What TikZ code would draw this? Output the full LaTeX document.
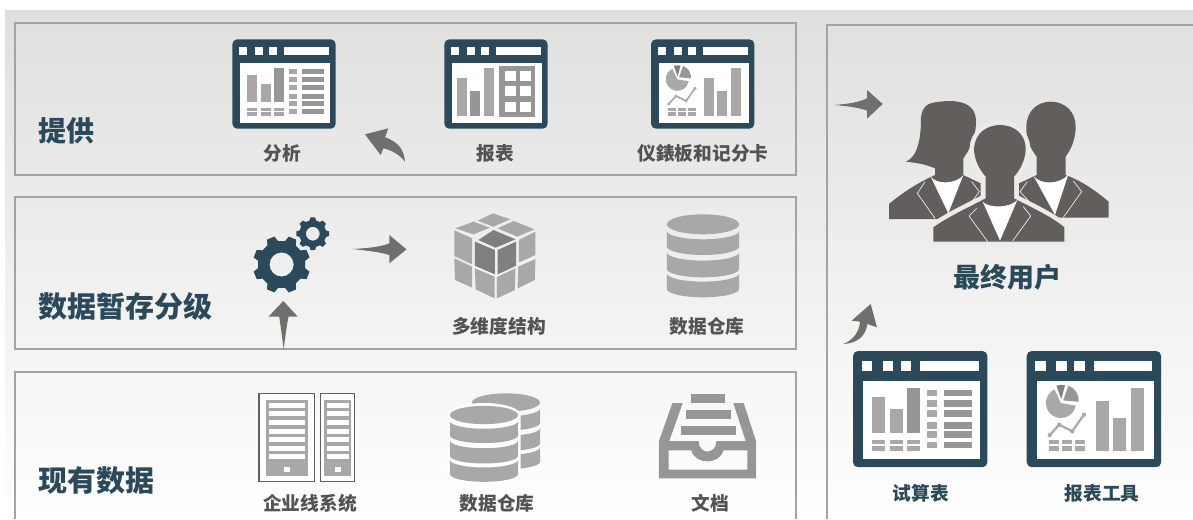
\documentclass[tikz,border=0pt]{standalone}
\usepackage{fontspec}
\setmainfont{Noto Sans CJK SC}
\usetikzlibrary{positioning}

\definecolor{framecol}{HTML}{2A4A5B}
\definecolor{barcol}{HTML}{A9A8A6}
\definecolor{darkbar}{HTML}{979695}
\definecolor{cubedark}{HTML}{7F7F7E}
\definecolor{arrowcol}{HTML}{716F6C}
\definecolor{usercol}{HTML}{625E5C}
\definecolor{panelline}{HTML}{A3A3A1}
\definecolor{labelcol}{HTML}{555351}
\definecolor{bgtop}{HTML}{DFDFDD}

\newcommand{\winframe}{
    \fill[framecol,rounded corners=5pt] (0,0) rectangle (103.4,89.4);
    \fill[white] (7.7,23.4) rectangle (97.7,83.4);
    \foreach \x in {6.7,22.7,36.7} \fill[white] (\x,7.7) rectangle ++(8,8);
    \fill[white] (51.7,7.7) rectangle (96.7,15.7);
}

\tikzset{
  panel/.style={draw=panelline,line width=1.3pt},
  bighead/.style={font=\bfseries\fontsize{29}{29}\selectfont,text=framecol,inner sep=0pt},
  itemlabel/.style={font=\bfseries\fontsize{18.7}{19}\selectfont,text=labelcol,inner sep=0pt},
  bluelabel/.style={itemlabel,text=framecol},
  swoosh/.style={fill=arrowcol},
  zoomthree/.style={xscale=.344,yscale=1/3},
  pics/analysisicon/.style={code={
    \winframe
    \fill[barcol] (14.7,35.7) rectangle (24.7,62.7);
    \fill[barcol] (28.7,44.7) rectangle (38.7,62.7);
    \fill[darkbar] (41.7,28.7) rectangle (51.7,62.7);
    \foreach \x in {14.7,28.7,41.7} {
      \fill[barcol] (\x,68.7) rectangle ++(10,3);
      \fill[barcol] (\x,73) rectangle ++(10,3.7);
    }
    \foreach \y in {29.7,37.7,45.7,54.7,61.7,69.7} {
      \fill[barcol] (56.7,\y) rectangle ++(8,5);
      \fill[darkbar] (69.7,\y) rectangle ++(22,5);
    }
  }},
  pics/reporticon/.style={code={
    \winframe
    \fill[barcol] (12.7,38.7) rectangle (22.7,76.7);
    \fill[darkbar] (25.7,51.7) rectangle (35.7,76.7);
    \fill[barcol] (39.7,28.7) rectangle (49.7,76.7);
    \fill[darkbar] (54.7,26.7) rectangle (90.7,77.7);
    \foreach \x in {60.7,75.7} \foreach \y in {31.7,46.7,62.7}
      \fill[white] (\x,\y) rectangle ++(11,10);
  }},
  pics/dashicon/.default=1.6,
  pics/dashicon/.style={code={
    \winframe
    \fill[barcol] (53,38.7) rectangle (63,76.7);
    \fill[barcol] (66,51.7) rectangle (76,76.7);
    \fill[barcol] (80,28.7) rectangle (90,76.7);
    % pie
    \fill[barcol] (26.3,40) -- ++(10:11.5) arc (10:245:11.5) -- cycle;
    \fill[darkbar] (28,38) -- ++(-70:12) arc (-70:5:12) -- cycle;
    \fill[cubedark] (26.6,37) -- ++(250:11) arc (250:285:11) -- cycle;
    % trend
    \draw[barcol,line width=#1pt] (17.7,64.7) -- (25,56.7) -- (35,61.7) -- (44,49);
    \foreach \x/\y in {17.7/64.7,25/56.7,35/61.7,44/49} \fill[barcol] (\x,\y) circle (1.7);
    \foreach \x in {17,27,37} {
      \fill[barcol] (\x,68.7) rectangle ++(8,3);
      \fill[barcol] (\x,73) rectangle ++(8,3.7);
    }
  }},
  pics/gearwheel/.style={code={
    \fill[framecol,even odd rule] (8.5:23)
      \foreach \a in {22.5,67.5,...,337.5} { -- (\a-14:23) -- (\a-8:28) -- (\a+8:28) -- (\a+14:23) } -- cycle
      (0,0) circle (11.7);
  }},
  pics/dbstack/.style={code={
    \fill[barcol] (0,0) ellipse (105 and 30);
    \fill[barcol] (-105,20) arc (180:0:105 and 25) -- (105,67) arc (0:180:105 and 25) -- cycle;
    \fill[barcol] (-105,84) arc (180:0:105 and 25) -- (105,134) arc (0:180:105 and 25) -- cycle;
    \fill[barcol] (-105,147) arc (180:0:105 and 25) -- (105,194) arc (0:180:105 and 25) -- cycle;
  }},
}

\begin{document}
\begin{tikzpicture}[x=1pt,y=-1pt,on grid]

   \path[use as bounding box] (0,0) rectangle (1193,519);

   % background and panels
   \shade[top color=bgtop,bottom color=white] (5,11) rectangle (1193,519);
   \draw[panel] (15,23) rectangle (796,175);
   \draw[panel] (15,197) rectangle (796,349);
   \draw[panel] (15,519) -- (15,372) -- (796,372) -- (796,519);
   \draw[panel] (1193,25) -- (827,25) -- (827,519);

   % headings and labels
   \node[bighead,font=\bfseries\fontsize{28}{28}\selectfont] (offer) at (66.5,131) {提供};
   \node[bighead] (staging) at (125.5,306) {数据暂存分级};
   \node[bighead] (existing) at (96.5,481) {现有数据};
   \node[bighead,font=\bfseries\fontsize{27}{27}\selectfont] (endusers) at (1007.5,277) {最终用户};

   \node[itemlabel] (analysis) at (282,153) {分析};
   \node[itemlabel] (reports) [right=213pt of analysis] {报表};
   \node[itemlabel] (dashboards) [right=208pt of reports] {仪錶板和记分卡};
   \node[itemlabel] (cubes) at (499,326) {多维度结构};
   \node[itemlabel] (warehouse) [right=208pt of cubes] {数据仓库};
   \node[itemlabel] (lob) at (310,503) {企业线系统};
   \node[itemlabel] (dwsource) [right=187pt of lob] {数据仓库};
   \node[itemlabel] (documents) [right=213pt of dwsource] {文档};
   \node[bluelabel] (trial) at (921,493) {试算表};
   \node[bluelabel] (tools) [right=181pt of trial] {报表工具};

   % window icons
   \pic (analysisimg) at (232.3,39.3) {analysisicon};
   \pic (reportimg) at (444.3,39.3) {reporticon};
   \pic (dashimg) at (651,39.3) {dashicon};
   \pic[scale=1.3] (trialimg) at (853,351) {analysisicon};
   \pic[scale=1.3] (toolsimg) at (1026.7,351) {dashicon=2.2};

   % gears
   \pic[scale=1.03] (biggear) at (281.6,264.5) {gearwheel};
   \pic[scale=.59,rotate=22.5] (smallgear) at (312.8,233.7) {gearwheel};

   % cube
   \begin{scope}[shift={(230,195)},zoomthree]
     \fill[barcol] (765,55) -- (815,73) -- (765,95) -- (720,77) -- cycle;
     \fill[barcol] (708,80) -- (755,98) -- (708,118) -- (655,100) -- cycle;
     \fill[barcol] (825,78) -- (885,103) -- (835,125) -- (778,100) -- cycle;
     \fill[cubedark] (766,105) -- (830,133) -- (772,158) -- (722,135) -- cycle;
     \fill[barcol] (652,106) -- (704,130) -- (704,208) -- (652,183) -- cycle;
     \fill[cubedark] (712,140) -- (770,165) -- (770,238) -- (712,212) -- cycle;
     \fill[barcol] (652,190) -- (704,215) -- (704,278) -- (654,255) -- cycle;
     \fill[barcol] (712,220) -- (769,245) -- (769,310) -- (714,283) -- cycle;
     \fill[cubedark] (778,165) -- (832,140) -- (832,212) -- (778,238) -- cycle;
     \fill[barcol] (840,135) -- (888,110) -- (888,180) -- (840,202) -- cycle;
     \fill[barcol] (776,246) -- (830,220) -- (828,285) -- (776,310) -- cycle;
     \fill[barcol] (838,215) -- (888,192) -- (886,255) -- (836,280) -- cycle;
   \end{scope}

   % databases
   \pic[xscale=.344,yscale=1/3] (dbmiddle) at (703,224.3) {dbstack};
   \pic[xscale=.324,yscale=.305] (dbback) at (506,402.5) {dbstack};
   \fill[white] (447.5,415) arc (180:360:36.5 and 12) -- (520.5,472) arc (0:180:36.5 and 12.5) -- cycle;
   \pic[xscale=.324,yscale=.305] (dbfront) at (484,415) {dbstack};

   % servers
   \begin{scope}[shift={(240,375)},zoomthree]
     \draw[usercol,line width=1.2pt,fill=white] (55,55) rectangle (217,320);
     \fill[barcol] (75,75) rectangle (197,303);
     \draw[usercol,line width=1.2pt,fill=white] (234,55) rectangle (333,320);
     \fill[barcol] (245,75) rectangle (323,303);
     \foreach \y in {84,108,135,162,186,213,237} {
       \fill[white] (84,\y) rectangle ++(105,15);
       \fill[white] (252,\y) rectangle ++(65,15);
     }
     \fill[white] (128,276) rectangle ++(18,15);
     \fill[white] (276,276) rectangle ++(18,15);
   % inbox
     \fill[darkbar] (1311,57) rectangle (1411,84);
     \fill[darkbar] (1296,105) rectangle (1426,132);
     \fill[darkbar] (1281,153) rectangle (1443,180);
     \fill[darkbar,even odd rule] (1248,198) -- (1333,198) arc (180:0:26 and 32) -- (1470,198) -- (1434,84) -- (1464,84)
       -- (1500,198) -- (1500,310) -- (1218,310) -- (1218,198) -- (1257,84) -- (1287,84) -- cycle
       (1246,226) -- (1312,226) .. controls (1322,270) and (1395,270) .. (1405,226) -- (1475,226) -- (1475,284) -- (1246,284) -- cycle;
   \end{scope}

   % users
   \begin{scope}[shift={(820,80)},scale=1/3]
     \fill[usercol] (207,417) -- (207,372) .. controls (245,340) and (290,310) .. (345,285) -- (345,265)
       .. controls (310,250) and (280,248) .. (258,245) .. controls (290,230) and (300,190) .. (303,130)
       .. controls (300,85) and (320,70) .. (345,67) .. controls (400,58) and (468,60) .. (468,125)
       .. controls (468,175) and (445,215) .. (430,235) -- (430,285) -- (482,310) -- (482,417) -- cycle;
     \fill[white] (332,290) .. controls (350,315) and (410,312) .. (430,285) -- (385,400) -- cycle;
     \draw[white,line width=.6pt] (315,305) -- (292,340) -- (345,415);
     \draw[white,line width=.6pt] (455,305) -- (478,335) -- (430,400);
     \fill[usercol] (597,413) -- (597,310) -- (650,285) -- (650,230) .. controls (630,205) and (618,175) .. (619,140)
       .. controls (620,90) and (655,65) .. (692,65) .. controls (735,65) and (767,95) .. (767,140)
       .. controls (767,175) and (755,205) .. (737,230) -- (737,285) .. controls (790,305) and (830,335) .. (866,365) -- (866,413) -- cycle;
     \fill[white] (640,287) .. controls (660,315) and (720,315) .. (745,283) -- (705,405) -- cycle;
     \draw[white,line width=.6pt] (622,305) -- (600,335) -- (665,405);
     \draw[white,line width=.6pt] (760,303) -- (785,335) -- (730,412);
     \fill[usercol,preaction={draw=black!8,line width=9pt}] (340,485) -- (340,442) .. controls (385,410) and (440,385) .. (497,355)
       -- (497,290) .. controls (475,265) and (462,235) .. (462,205) .. controls (465,160) and (500,135) .. (540,135)
       .. controls (585,135) and (617,165) .. (617,205) .. controls (617,240) and (600,270) .. (582,290)
       -- (582,355) .. controls (640,385) and (695,410) .. (733,442) -- (733,485) -- cycle;
     \fill[white] (488,365) .. controls (505,385) and (570,385) .. (592,360) -- (540,482) -- cycle;
     \draw[white,line width=.6pt] (470,385) -- (447,408) -- (503,485);
     \draw[white,line width=.6pt] (610,380) -- (632,408) -- (578,483);
   \end{scope}

   % arrows
   \begin{scope}[scale=1/3]
     \fill[swoosh] (1095,403) -- (1165,385) -- (1155,412) .. controls (1195,425) and (1212,450) .. (1215,485)
       .. controls (1200,465) and (1175,450) .. (1150,445) -- (1142,465) -- cycle;
   \end{scope}
   \begin{scope}[shift={(230,195)},zoomthree]
     \fill[swoosh] (355,162) .. controls (400,160) and (440,155) .. (463,145) -- (463,120) -- (513,163) -- (463,205) -- (463,180)
       .. controls (440,172) and (400,167) .. (355,162) -- cycle;
     \fill[swoosh] (156,462) .. controls (152,430) and (147,390) .. (143,365) -- (112,365) -- (155,318) -- (197,365) -- (170,365)
       .. controls (165,390) and (160,430) .. (156,462) -- cycle;
   \end{scope}
   \begin{scope}[shift={(820,80)},scale=1/3]
     \fill[swoosh] (42,75) .. controls (85,72) and (120,66) .. (141,55) -- (141,30) -- (188,72) -- (141,116) -- (141,92)
       .. controls (120,84) and (85,78) .. (42,75) -- cycle;
   \end{scope}
   \begin{scope}[shift={(830,300)},scale=1/3]
     \fill[swoosh] (40,132) .. controls (70,120) and (88,95) .. (90,65) -- (65,62) -- (122,12) -- (141,82) -- (112,72)
       .. controls (108,105) and (85,130) .. (40,132) -- cycle;
   \end{scope}

\end{tikzpicture}
\end{document}
